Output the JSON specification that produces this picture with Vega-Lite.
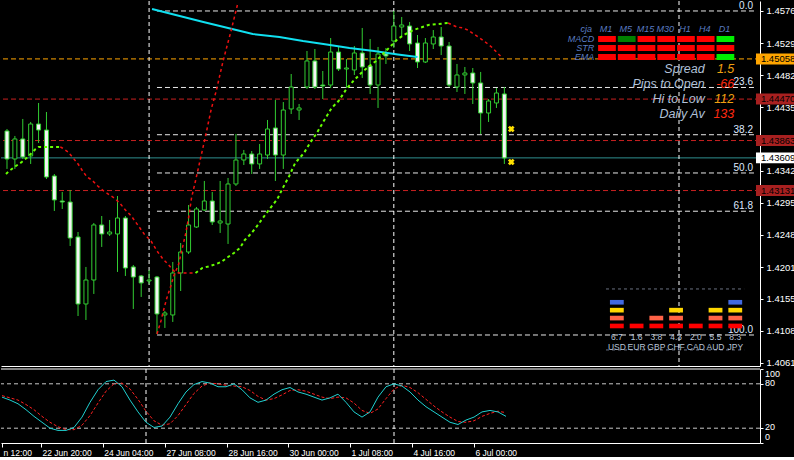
{
"$schema":"https://vega.github.io/schema/vega-lite/v6.json",
"background":"#000000",
"padding":0,
"spacing":0,
"config":{
 "view":{"stroke":null},
 "axis":{"grid":false,"title":null,"labelColor":"#ffffff","labelFont":"Liberation Sans","labelFontSize":9.5,"domainColor":"#ffffff","tickColor":"#ffffff","labelOverlap":false,"labelFlush":false,"labelBound":false},
 "text":{"font":"Liberation Sans"}
},
"datasets":{
 "candles":[
{"i":0,"o":1.44003,"h":1.44032,"l":1.43447,"c":1.43593},
{"i":1,"o":1.43593,"h":1.43930,"l":1.43447,"c":1.43886},
{"i":2,"o":1.43886,"h":1.44179,"l":1.43593,"c":1.43622},
{"i":3,"o":1.43637,"h":1.44135,"l":1.43520,"c":1.44105},
{"i":4,"o":1.44105,"h":1.44413,"l":1.43827,"c":1.44017},
{"i":5,"o":1.44017,"h":1.44281,"l":1.43300,"c":1.43329},
{"i":6,"o":1.43344,"h":1.43373,"l":1.42832,"c":1.42993},
{"i":7,"o":1.42978,"h":1.43110,"l":1.42861,"c":1.42963},
{"i":8,"o":1.42963,"h":1.43139,"l":1.42319,"c":1.42436},
{"i":9,"o":1.42451,"h":1.42524,"l":1.41294,"c":1.41470},
{"i":10,"o":1.41470,"h":1.42012,"l":1.41236,"c":1.41821},
{"i":11,"o":1.41821,"h":1.42656,"l":1.41617,"c":1.42627},
{"i":12,"o":1.42627,"h":1.42758,"l":1.42305,"c":1.42495},
{"i":13,"o":1.42495,"h":1.42700,"l":1.42466,"c":1.42524},
{"i":14,"o":1.42495,"h":1.43051,"l":1.41939,"c":1.42729},
{"i":15,"o":1.42729,"h":1.42758,"l":1.41880,"c":1.41997},
{"i":16,"o":1.42012,"h":1.42041,"l":1.41397,"c":1.41865},
{"i":17,"o":1.41880,"h":1.41895,"l":1.41573,"c":1.41778},
{"i":18,"o":1.41807,"h":1.41968,"l":1.41763,"c":1.41821},
{"i":19,"o":1.41865,"h":1.41880,"l":1.41031,"c":1.41324},
{"i":20,"o":1.41309,"h":1.41368,"l":1.41119,"c":1.41338},
{"i":21,"o":1.41309,"h":1.42085,"l":1.41207,"c":1.41924},
{"i":22,"o":1.41924,"h":1.42363,"l":1.41660,"c":1.42231},
{"i":23,"o":1.42231,"h":1.42919,"l":1.42202,"c":1.42627},
{"i":24,"o":1.42597,"h":1.42890,"l":1.42583,"c":1.42861},
{"i":25,"o":1.42846,"h":1.43271,"l":1.42832,"c":1.42978},
{"i":26,"o":1.42978,"h":1.43110,"l":1.42627,"c":1.42671},
{"i":27,"o":1.42656,"h":1.43271,"l":1.42510,"c":1.42685},
{"i":28,"o":1.42641,"h":1.43315,"l":1.42349,"c":1.43227},
{"i":29,"o":1.43227,"h":1.43959,"l":1.43198,"c":1.43578},
{"i":30,"o":1.43578,"h":1.43725,"l":1.43505,"c":1.43666},
{"i":31,"o":1.43666,"h":1.43710,"l":1.43373,"c":1.43520},
{"i":32,"o":1.43520,"h":1.43813,"l":1.43447,"c":1.43666},
{"i":33,"o":1.43651,"h":1.44164,"l":1.43593,"c":1.44032},
{"i":34,"o":1.44047,"h":1.44457,"l":1.43271,"c":1.43651},
{"i":35,"o":1.43651,"h":1.44427,"l":1.43447,"c":1.44310},
{"i":36,"o":1.44325,"h":1.44837,"l":1.44252,"c":1.44647},
{"i":37,"o":1.44310,"h":1.44398,"l":1.44164,"c":1.44340},
{"i":38,"o":1.44647,"h":1.45174,"l":1.44618,"c":1.45028},
{"i":39,"o":1.45028,"h":1.45203,"l":1.44618,"c":1.44647},
{"i":40,"o":1.44676,"h":1.44881,"l":1.44471,"c":1.44662},
{"i":41,"o":1.44676,"h":1.45364,"l":1.44632,"c":1.45159},
{"i":42,"o":1.45159,"h":1.45247,"l":1.44881,"c":1.44910},
{"i":43,"o":1.44910,"h":1.45057,"l":1.44632,"c":1.44925},
{"i":44,"o":1.44896,"h":1.45247,"l":1.44823,"c":1.45145},
{"i":45,"o":1.45145,"h":1.45511,"l":1.44779,"c":1.44940},
{"i":46,"o":1.44954,"h":1.45350,"l":1.44545,"c":1.44676},
{"i":47,"o":1.44676,"h":1.45233,"l":1.44340,"c":1.45130},
{"i":48,"o":1.45130,"h":1.45218,"l":1.44984,"c":1.45101},
{"i":49,"o":1.45320,"h":1.45760,"l":1.45218,"c":1.45540},
{"i":50,"o":1.45525,"h":1.45672,"l":1.45394,"c":1.45555},
{"i":51,"o":1.45540,"h":1.45599,"l":1.45174,"c":1.45277},
{"i":52,"o":1.45291,"h":1.45408,"l":1.44925,"c":1.45013},
{"i":53,"o":1.45013,"h":1.45364,"l":1.44998,"c":1.45291},
{"i":54,"o":1.45277,"h":1.45481,"l":1.45203,"c":1.45379},
{"i":55,"o":1.45379,"h":1.45525,"l":1.45115,"c":1.45247},
{"i":56,"o":1.45247,"h":1.45306,"l":1.44647,"c":1.44676},
{"i":57,"o":1.44647,"h":1.44984,"l":1.44574,"c":1.44823},
{"i":58,"o":1.44823,"h":1.44940,"l":1.44545,"c":1.44852},
{"i":59,"o":1.44852,"h":1.44925,"l":1.44398,"c":1.44706},
{"i":60,"o":1.44706,"h":1.44867,"l":1.43959,"c":1.44266},
{"i":61,"o":1.44266,"h":1.44471,"l":1.44135,"c":1.44442},
{"i":62,"o":1.44413,"h":1.44632,"l":1.44340,"c":1.44559},
{"i":63,"o":1.44545,"h":1.44647,"l":1.43520,"c":1.43608}
 ],
 "lines":[
{"s":"cyan","i":18.375,"p":1.45789},{"s":"cyan","i":24.875,"p":1.45599},{"s":"cyan","i":31.125,"p":1.45423},{"s":"cyan","i":34.5,"p":1.45379},{"s":"cyan","i":37.5,"p":1.4532},{"s":"cyan","i":40.5,"p":1.45269},{"s":"cyan","i":43.375,"p":1.45218},{"s":"cyan","i":46.5,"p":1.45174},{"s":"cyan","i":49.5,"p":1.45123},{"s":"cyan","i":52,"p":1.45086},
{"s":"g1","i":-0.125,"p":1.43373},{"s":"g1","i":0.25,"p":1.43417},{"s":"g1","i":1.125,"p":1.4349},{"s":"g1","i":1.875,"p":1.43549},{"s":"g1","i":2.625,"p":1.43622},{"s":"g1","i":3.25,"p":1.43695},{"s":"g1","i":3.625,"p":1.43739},{"s":"g1","i":4,"p":1.43769},{"s":"g1","i":6.75,"p":1.43769},
{"s":"r1","i":6.75,"p":1.43769},{"s":"r1","i":7,"p":1.43754},{"s":"r1","i":7.75,"p":1.43695},{"s":"r1","i":8.375,"p":1.43608},{"s":"r1","i":9,"p":1.4352},{"s":"r1","i":9.5,"p":1.43432},{"s":"r1","i":10.125,"p":1.43329},{"s":"r1","i":10.75,"p":1.43285},{"s":"r1","i":11.5,"p":1.43198},{"s":"r1","i":12.25,"p":1.43124},{"s":"r1","i":13,"p":1.43066},{"s":"r1","i":13.75,"p":1.43007},{"s":"r1","i":14.375,"p":1.42934},{"s":"r1","i":15,"p":1.42846},{"s":"r1","i":15.75,"p":1.42758},{"s":"r1","i":17.375,"p":1.42495},{"s":"r1","i":18.25,"p":1.42392},{"s":"r1","i":19,"p":1.42246},{"s":"r1","i":19.75,"p":1.42129},{"s":"r1","i":20.375,"p":1.42056},{"s":"r1","i":21.125,"p":1.41953},{"s":"r1","i":21.75,"p":1.41924},{"s":"r1","i":23.875,"p":1.41924},
{"s":"g2","i":23.875,"p":1.41924},{"s":"g2","i":24.75,"p":1.41997},{"s":"g2","i":25.75,"p":1.42026},{"s":"g2","i":26.5,"p":1.42056},{"s":"g2","i":27.125,"p":1.42085},{"s":"g2","i":28,"p":1.42158},{"s":"g2","i":28.75,"p":1.42217},{"s":"g2","i":29.5,"p":1.4229},{"s":"g2","i":30.125,"p":1.42407},{"s":"g2","i":30.875,"p":1.42495},{"s":"g2","i":31.5,"p":1.42583},{"s":"g2","i":32.875,"p":1.42802},{"s":"g2","i":34.25,"p":1.43007},{"s":"g2","i":34.875,"p":1.43154},{"s":"g2","i":35.75,"p":1.43344},{"s":"g2","i":36.5,"p":1.43534},{"s":"g2","i":37.625,"p":1.43681},{"s":"g2","i":38.375,"p":1.43827},{"s":"g2","i":39.25,"p":1.43974},{"s":"g2","i":40.125,"p":1.44149},{"s":"g2","i":41.125,"p":1.4434},{"s":"g2","i":42,"p":1.44442},{"s":"g2","i":43,"p":1.44618},{"s":"g2","i":43.875,"p":1.44735},{"s":"g2","i":44.875,"p":1.44852},{"s":"g2","i":45.75,"p":1.4494},{"s":"g2","i":46.75,"p":1.45028},{"s":"g2","i":47.375,"p":1.45101},{"s":"g2","i":48.375,"p":1.45218},{"s":"g2","i":49.5,"p":1.4535},{"s":"g2","i":50.5,"p":1.45423},{"s":"g2","i":51.5,"p":1.45481},{"s":"g2","i":52.625,"p":1.45525},{"s":"g2","i":53.375,"p":1.45555},{"s":"g2","i":55.875,"p":1.45584},
{"s":"r2","i":55.875,"p":1.45584},{"s":"r2","i":57,"p":1.45525},{"s":"r2","i":57.75,"p":1.45511},{"s":"r2","i":58.375,"p":1.45481},{"s":"r2","i":59.125,"p":1.45423},{"s":"r2","i":59.875,"p":1.45364},{"s":"r2","i":60.75,"p":1.45291},{"s":"r2","i":61.375,"p":1.45233},{"s":"r2","i":62.125,"p":1.45145},{"s":"r2","i":62.75,"p":1.45072},
{"s":"steep","i":19,"p":1.41031},{"s":"steep","i":19.5,"p":1.41221},{"s":"steep","i":19.875,"p":1.41397},{"s":"steep","i":20.25,"p":1.41558},{"s":"steep","i":20.75,"p":1.41734},{"s":"steep","i":21.125,"p":1.4188},{"s":"steep","i":21.75,"p":1.42056},{"s":"steep","i":22.125,"p":1.42246},{"s":"steep","i":22.625,"p":1.42495},{"s":"steep","i":23,"p":1.42729},{"s":"steep","i":23.375,"p":1.43022},{"s":"steep","i":23.875,"p":1.43271},{"s":"steep","i":24.5,"p":1.43593},{"s":"steep","i":25.125,"p":1.43915},{"s":"steep","i":25.5,"p":1.4412},{"s":"steep","i":25.875,"p":1.44325},{"s":"steep","i":26.5,"p":1.44588},{"s":"steep","i":27.375,"p":1.45028},{"s":"steep","i":28.375,"p":1.45467},{"s":"steep","i":29.25,"p":1.45877}
 ],
 "stoch":[
{"i":0,"k":62,"d":64},{"i":1,"k":58,"d":61},{"i":2,"k":53,"d":58},{"i":3,"k":45,"d":52},{"i":4,"k":36,"d":45},{"i":5,"k":28,"d":36},{"i":6,"k":20,"d":28},{"i":7,"k":17,"d":22},{"i":8,"k":17,"d":18},{"i":9,"k":21,"d":18},{"i":10,"k":35,"d":24},{"i":11,"k":55,"d":37},{"i":12,"k":72,"d":54},{"i":13,"k":83,"d":70},{"i":14,"k":85,"d":80},{"i":15,"k":76,"d":81},{"i":16,"k":58,"d":73},{"i":17,"k":42,"d":59},{"i":18,"k":28,"d":43},{"i":19,"k":21,"d":30},{"i":20,"k":23,"d":24},{"i":21,"k":35,"d":26},{"i":22,"k":53,"d":37},{"i":23,"k":69,"d":52},{"i":24,"k":79,"d":67},{"i":25,"k":83,"d":77},{"i":26,"k":81,"d":81},{"i":27,"k":76,"d":80},{"i":28,"k":76,"d":78},{"i":29,"k":80,"d":77},{"i":30,"k":72,"d":76},{"i":31,"k":61,"d":71},{"i":32,"k":55,"d":63},{"i":33,"k":58,"d":58},{"i":34,"k":66,"d":60},{"i":35,"k":72,"d":65},{"i":36,"k":75,"d":71},{"i":37,"k":69,"d":72},{"i":38,"k":66,"d":70},{"i":39,"k":62,"d":66},{"i":40,"k":58,"d":62},{"i":41,"k":61,"d":60},{"i":42,"k":66,"d":62},{"i":43,"k":55,"d":61},{"i":44,"k":42,"d":54},{"i":45,"k":35,"d":44},{"i":46,"k":42,"d":40},{"i":47,"k":62,"d":46},{"i":48,"k":76,"d":60},{"i":49,"k":80,"d":73},{"i":50,"k":77,"d":78},{"i":51,"k":69,"d":75},{"i":52,"k":58,"d":68},{"i":53,"k":49,"d":59},{"i":54,"k":42,"d":50},{"i":55,"k":35,"d":42},{"i":56,"k":28,"d":35},{"i":57,"k":25,"d":29},{"i":58,"k":31,"d":28},{"i":59,"k":35,"d":30},{"i":60,"k":42,"d":36},{"i":61,"k":44,"d":40},{"i":62,"k":42,"d":43},{"i":63,"k":36,"d":41}
 ],
 "grid":[
{"tf":"M1","k":0,"r":0,"st":"dn"},{"tf":"M5","k":1,"r":0,"st":"upw"},{"tf":"M15","k":2,"r":0,"st":"dn"},{"tf":"M30","k":3,"r":0,"st":"dn"},{"tf":"H1","k":4,"r":0,"st":"dn"},{"tf":"H4","k":5,"r":0,"st":"dn"},{"tf":"D1","k":6,"r":0,"st":"up"},
{"tf":"M1","k":0,"r":1,"st":"dn"},{"tf":"M5","k":1,"r":1,"st":"dn"},{"tf":"M15","k":2,"r":1,"st":"dn"},{"tf":"M30","k":3,"r":1,"st":"dn"},{"tf":"H1","k":4,"r":1,"st":"dn"},{"tf":"H4","k":5,"r":1,"st":"dn"},{"tf":"D1","k":6,"r":1,"st":"dn"},
{"tf":"M1","k":0,"r":2,"st":"dn"},{"tf":"M5","k":1,"r":2,"st":"dn"},{"tf":"M15","k":2,"r":2,"st":"dn"},{"tf":"M30","k":3,"r":2,"st":"dn"},{"tf":"H1","k":4,"r":2,"st":"dn"},{"tf":"H4","k":5,"r":2,"st":"dn"},{"tf":"D1","k":6,"r":2,"st":"up"}
 ],
 "meter":[
{"cur":"USD","val":"6.7","k":0},{"cur":"EUR","val":"1.6","k":1},{"cur":"GBP","val":"3.8","k":2},{"cur":"CHF","val":"4.3","k":3},{"cur":"CAD","val":"2.0","k":4},{"cur":"AUD","val":"5.5","k":5},{"cur":"JPY","val":"8.3","k":6}
 ],
 "mbars":[
{"cur":"USD","k":0,"lvl":1},{"cur":"USD","k":0,"lvl":2},{"cur":"USD","k":0,"lvl":3},{"cur":"USD","k":0,"lvl":4},
{"cur":"EUR","k":1,"lvl":1},
{"cur":"GBP","k":2,"lvl":1},{"cur":"GBP","k":2,"lvl":2},
{"cur":"CHF","k":3,"lvl":1},{"cur":"CHF","k":3,"lvl":2},{"cur":"CHF","k":3,"lvl":3},
{"cur":"CAD","k":4,"lvl":1},
{"cur":"AUD","k":5,"lvl":1},{"cur":"AUD","k":5,"lvl":2},{"cur":"AUD","k":5,"lvl":3},
{"cur":"JPY","k":6,"lvl":1},{"cur":"JPY","k":6,"lvl":2},{"cur":"JPY","k":6,"lvl":3},{"cur":"JPY","k":6,"lvl":4}
 ]
},
"vconcat":[
{
 "width":759,"height":365,
 "resolve":{"axis":{"x":"independent","y":"independent"}},
 "layer":[
  {"data":{"values":[{"p":1.4447},{"p":1.43863},{"p":1.43131}]},
   "mark":{"type":"rule","color":"#c82020","strokeDash":[5,3],"strokeWidth":1},
   "encoding":{"y":{"field":"p","type":"quantitative","scale":{"domain":[1.40562,1.45906],"nice":false,"zero":false},
     "axis":{"orient":"right","values":[1.4576,1.4529,1.4482,1.4435,1.4388,1.4342,1.4295,1.4248,1.4201,1.4155,1.4108,1.4061],"format":".5f","tickSize":3,"labelPadding":3}}}},
  {"data":{"values":[{"p":1.45058}]},
   "mark":{"type":"rule","color":"#ffa500","strokeDash":[5,3],"strokeWidth":1},
   "encoding":{"y":{"field":"p","type":"quantitative","scale":{"domain":[1.40562,1.45906],"nice":false,"zero":false},"axis":null}}},
  {"data":{"values":[{"p":1.43609}]},
   "mark":{"type":"rule","color":"#2f8f8f","strokeWidth":1},
   "encoding":{"y":{"field":"p","type":"quantitative","scale":{"domain":[1.40562,1.45906],"nice":false,"zero":false},"axis":null}}},
  {"data":{"values":[{"p":1.4576,"lab":"0.0"},{"p":1.4464,"lab":"23.6"},{"p":1.43948,"lab":"38.2"},{"p":1.43388,"lab":"50.0"},{"p":1.42828,"lab":"61.8"},{"p":1.41016,"lab":"100.0"}]},
   "layer":[
    {"mark":{"type":"rule","color":"#e8e8e8","strokeDash":[5,3],"strokeWidth":1},
     "encoding":{"x":{"datum":19,"type":"quantitative","scale":{"domain":[-0.125,94.75],"nice":false,"zero":false},"axis":null},"x2":{"datum":94.75},
       "y":{"field":"p","type":"quantitative","scale":{"domain":[1.40562,1.45906],"nice":false,"zero":false},"axis":null}}},
    {"mark":{"type":"text","align":"right","baseline":"bottom","fontSize":10,"color":"#dfe8ff","dy":0},
     "encoding":{"x":{"datum":94.5,"type":"quantitative","scale":{"domain":[-0.125,94.75],"nice":false,"zero":false},"axis":null},
       "y":{"field":"p","type":"quantitative","scale":{"domain":[1.40562,1.45906],"nice":false,"zero":false},"axis":null},"text":{"field":"lab"}}}
   ]},
  {"data":{"values":[{"i":18},{"i":49},{"i":85.125}]},
   "mark":{"type":"rule","color":"#ffffff","strokeDash":[4,3],"strokeWidth":1},
   "encoding":{"x":{"field":"i","type":"quantitative","scale":{"domain":[-0.125,94.75],"nice":false,"zero":false},"axis":null}}},
  {"data":{"name":"candles"},
   "mark":{"type":"rule","color":"#32cd32","strokeWidth":1,"clip":true},
   "encoding":{"x":{"field":"i","type":"quantitative","scale":{"domain":[-0.125,94.75],"nice":false,"zero":false},"axis":{"orient":"bottom","labels":false,"ticks":false,"domain":true}},
     "y":{"field":"l","type":"quantitative","scale":{"domain":[1.40562,1.45906],"nice":false,"zero":false},"axis":null},"y2":{"field":"h"}}},
  {"data":{"name":"candles"},
   "mark":{"type":"bar","orient":"vertical","size":4,"stroke":"#32cd32","strokeWidth":1,"clip":true},
   "encoding":{"x":{"field":"i","type":"quantitative","scale":{"domain":[-0.125,94.75],"nice":false,"zero":false},"axis":null},
     "y":{"field":"o","type":"quantitative","scale":{"domain":[1.40562,1.45906],"nice":false,"zero":false},"axis":null},"y2":{"field":"c"},
     "fill":{"condition":{"test":"datum.c < datum.o","value":"#f4f4f4"},"value":"#000000"}}},
  {"data":{"name":"lines"},"transform":[{"filter":"datum.s === 'cyan'"}],
   "mark":{"type":"line","color":"#10e0f0","strokeWidth":2},
   "encoding":{"x":{"field":"i","type":"quantitative","scale":{"domain":[-0.125,94.75],"nice":false,"zero":false},"axis":null},
     "y":{"field":"p","type":"quantitative","scale":{"domain":[1.40562,1.45906],"nice":false,"zero":false},"axis":null}}},
  {"data":{"name":"lines"},"transform":[{"filter":"datum.s === 'g1' || datum.s === 'g2'"}],
   "mark":{"type":"line","color":"#66ff00","strokeWidth":2,"strokeDash":[3,3]},
   "encoding":{"x":{"field":"i","type":"quantitative","scale":{"domain":[-0.125,94.75],"nice":false,"zero":false},"axis":null},
     "y":{"field":"p","type":"quantitative","scale":{"domain":[1.40562,1.45906],"nice":false,"zero":false},"axis":null},
     "detail":{"field":"s"}}},
  {"data":{"name":"lines"},"transform":[{"filter":"datum.s === 'r1' || datum.s === 'r2' || datum.s === 'steep'"}],
   "mark":{"type":"line","color":"#ee1010","strokeWidth":1.5,"strokeDash":[3,3],"clip":true},
   "encoding":{"x":{"field":"i","type":"quantitative","scale":{"domain":[-0.125,94.75],"nice":false,"zero":false},"axis":null},
     "y":{"field":"p","type":"quantitative","scale":{"domain":[1.40562,1.45906],"nice":false,"zero":false},"axis":null},
     "detail":{"field":"s"}}},
  {"data":{"values":[{"i":63.875,"p":1.44032},{"i":63.875,"p":1.43549}]},
   "mark":{"type":"point","shape":"cross","angle":45,"filled":true,"color":"#ffe000","size":45,"opacity":1},
   "encoding":{"x":{"field":"i","type":"quantitative","scale":{"domain":[-0.125,94.75],"nice":false,"zero":false},"axis":null},
     "y":{"field":"p","type":"quantitative","scale":{"domain":[1.40562,1.45906],"nice":false,"zero":false},"axis":null}}},
  {"mark":{"type":"text","text":"U","fontSize":11,"fontWeight":"bold","color":"#e8b000","align":"center","baseline":"middle"},
   "encoding":{"x":{"datum":63.5,"type":"quantitative","scale":{"domain":[-0.125,94.75],"nice":false,"zero":false},"axis":null},
     "y":{"datum":1.44574,"type":"quantitative","scale":{"domain":[1.40562,1.45906],"nice":false,"zero":false},"axis":null}}},
  {"mark":{"type":"point","shape":"triangle-down","filled":true,"color":"#008b8b","size":90,"opacity":1,"clip":true},
   "encoding":{"x":{"datum":64.875,"type":"quantitative","scale":{"domain":[-0.125,94.75],"nice":false,"zero":false},"axis":null},
     "y":{"datum":1.459,"type":"quantitative","scale":{"domain":[1.40562,1.45906],"nice":false,"zero":false},"axis":null}}},
  {"data":{"name":"grid"},
   "transform":[{"calculate":"74.875 + 2.5*datum.k","as":"x1"},{"calculate":"datum.x1 + 2.25","as":"x2"},{"calculate":"1.45394 - 0.0013176*datum.r","as":"yt"},{"calculate":"datum.yt - 0.00088","as":"yb"}],
   "mark":{"type":"rect"},
   "encoding":{"x":{"field":"x1","type":"quantitative","scale":{"domain":[-0.125,94.75],"nice":false,"zero":false},"axis":null},"x2":{"field":"x2"},
     "y":{"field":"yt","type":"quantitative","scale":{"domain":[1.40562,1.45906],"nice":false,"zero":false},"axis":null},"y2":{"field":"yb"},
     "fill":{"condition":[{"test":"datum.st === 'up'","value":"#00ee00"},{"test":"datum.st === 'upw'","value":"#008000"}],"value":"#ff0000"}}},
  {"data":{"values":[{"t":"cja","k":-1},{"t":"M1","k":0},{"t":"M5","k":1},{"t":"M15","k":2},{"t":"M30","k":3},{"t":"H1","k":4},{"t":"H4","k":5},{"t":"D1","k":6}]},
   "transform":[{"calculate":"75.875 + 2.5*datum.k","as":"x"}],
   "mark":{"type":"text","fontSize":9,"fontStyle":"italic","color":"#5a7cc0","align":"center","baseline":"middle"},
   "encoding":{"x":{"field":"x","type":"quantitative","scale":{"domain":[-0.125,94.75],"nice":false,"zero":false},"axis":null},
     "y":{"datum":1.45496,"type":"quantitative","scale":{"domain":[1.40562,1.45906],"nice":false,"zero":false},"axis":null},"text":{"field":"t"}}},
  {"data":{"values":[{"t":"MACD","r":0},{"t":"STR","r":1},{"t":"EMA","r":2}]},
   "transform":[{"calculate":"1.4535 - 0.0013176*datum.r","as":"y"}],
   "mark":{"type":"text","fontSize":9,"fontStyle":"italic","color":"#5a7cc0","align":"right","baseline":"middle"},
   "encoding":{"x":{"datum":74.375,"type":"quantitative","scale":{"domain":[-0.125,94.75],"nice":false,"zero":false},"axis":null},
     "y":{"field":"y","type":"quantitative","scale":{"domain":[1.40562,1.45906],"nice":false,"zero":false},"axis":null},"text":{"field":"t"}}},
  {"data":{"values":[{"t":"Spread","v":"1.5","k":0},{"t":"Pips to Open","v":"-66","k":1},{"t":"Hi to Low","v":"112","k":2},{"t":"Daily Av","v":"133","k":3}]},
   "transform":[{"calculate":"1.4491 - 0.002196*datum.k","as":"y"}],
   "layer":[
    {"mark":{"type":"text","fontSize":12.5,"fontStyle":"italic","color":"#b0c0d8","align":"right","baseline":"middle"},
     "encoding":{"x":{"datum":88.375,"type":"quantitative","scale":{"domain":[-0.125,94.75],"nice":false,"zero":false},"axis":null},
       "y":{"field":"y","type":"quantitative","scale":{"domain":[1.40562,1.45906],"nice":false,"zero":false},"axis":null},"text":{"field":"t"}}},
    {"mark":{"type":"text","fontSize":12.5,"fontStyle":"italic","align":"right","baseline":"middle"},
     "encoding":{"x":{"datum":92.125,"type":"quantitative","scale":{"domain":[-0.125,94.75],"nice":false,"zero":false},"axis":null},
       "y":{"field":"y","type":"quantitative","scale":{"domain":[1.40562,1.45906],"nice":false,"zero":false},"axis":null},"text":{"field":"v"},
       "fill":{"condition":{"test":"datum.k % 2 == 0","value":"#f0a010"},"value":"#ff2a10"}}}
   ]},
  {"data":{"values":[{"p":1.4169},{"p":1.40797}]},
   "mark":{"type":"rule","color":"#6a7080","strokeDash":[3,3],"strokeWidth":1},
   "encoding":{"x":{"datum":75.875,"type":"quantitative","scale":{"domain":[-0.125,94.75],"nice":false,"zero":false},"axis":null},"x2":{"datum":93.375},
     "y":{"field":"p","type":"quantitative","scale":{"domain":[1.40562,1.45906],"nice":false,"zero":false},"axis":null}}},
  {"data":{"name":"mbars"},
   "transform":[{"calculate":"77.25 + 2.5*datum.k - 0.875","as":"x1"},{"calculate":"datum.x1 + 1.75","as":"x2"},{"calculate":"1.41114 + 0.001157*(datum.lvl-1)","as":"yb"},{"calculate":"datum.yb + 0.00068","as":"yt"}],
   "mark":{"type":"rect"},
   "encoding":{"x":{"field":"x1","type":"quantitative","scale":{"domain":[-0.125,94.75],"nice":false,"zero":false},"axis":null},"x2":{"field":"x2"},
     "y":{"field":"yb","type":"quantitative","scale":{"domain":[1.40562,1.45906],"nice":false,"zero":false},"axis":null},"y2":{"field":"yt"},
     "fill":{"condition":[{"test":"datum.lvl == 1","value":"#ff0000"},{"test":"datum.lvl == 2","value":"#ff6347"},{"test":"datum.lvl == 3","value":"#ffd700"}],"value":"#4169e1"}}},
  {"data":{"name":"meter"},
   "transform":[{"calculate":"77.25 + 2.5*datum.k","as":"x"}],
   "layer":[
    {"mark":{"type":"text","fontSize":8.5,"color":"#b8c4d8","align":"center","baseline":"middle"},
     "encoding":{"x":{"field":"x","type":"quantitative","scale":{"domain":[-0.125,94.75],"nice":false,"zero":false},"axis":null},
       "y":{"datum":1.40992,"type":"quantitative","scale":{"domain":[1.40562,1.45906],"nice":false,"zero":false},"axis":null},"text":{"field":"val"}}},
    {"mark":{"type":"text","fontSize":8.5,"color":"#b8c4d8","align":"center","baseline":"middle"},
     "encoding":{"x":{"field":"x","type":"quantitative","scale":{"domain":[-0.125,94.75],"nice":false,"zero":false},"axis":null},
       "y":{"datum":1.40841,"type":"quantitative","scale":{"domain":[1.40562,1.45906],"nice":false,"zero":false},"axis":null},"text":{"field":"cur"}}}
   ]},
  {"mark":{"type":"text","text":"»»» Price Meter System™ ©GPL «««","fontSize":8.5,"color":"#6a7080","align":"center","baseline":"middle"},
   "encoding":{"x":{"datum":84.875,"type":"quantitative","scale":{"domain":[-0.125,94.75],"nice":false,"zero":false},"axis":null},
     "y":{"datum":1.40684,"type":"quantitative","scale":{"domain":[1.40562,1.45906],"nice":false,"zero":false},"axis":null}}},
  {"data":{"values":[{"p":1.45058,"kind":"o"},{"p":1.4447,"kind":"r"},{"p":1.43863,"kind":"r"},{"p":1.43609,"kind":"w"},{"p":1.43131,"kind":"r"}]},
   "transform":[{"calculate":"datum.p + 0.0008","as":"pt"},{"calculate":"datum.p - 0.0008","as":"pb"}],
   "layer":[
    {"mark":{"type":"rect"},
     "encoding":{"x":{"datum":94.875,"type":"quantitative","scale":{"domain":[-0.125,94.75],"nice":false,"zero":false},"axis":null},"x2":{"datum":99.9},
       "y":{"field":"pt","type":"quantitative","scale":{"domain":[1.40562,1.45906],"nice":false,"zero":false},"axis":null},"y2":{"field":"pb"},
       "fill":{"condition":[{"test":"datum.kind === 'o'","value":"#ffa500"},{"test":"datum.kind === 'w'","value":"#ffffff"}],"value":"#a82020"}}},
    {"mark":{"type":"text","fontSize":9.5,"font":"Liberation Sans","color":"#000000","align":"left","baseline":"middle"},
     "encoding":{"x":{"datum":95.5,"type":"quantitative","scale":{"domain":[-0.125,94.75],"nice":false,"zero":false},"axis":null},
       "y":{"field":"p","type":"quantitative","scale":{"domain":[1.40562,1.45906],"nice":false,"zero":false},"axis":null},
       "text":{"field":"p","type":"quantitative","format":".5f"}}}
   ]}
 ]
},
{
 "width":759,"height":74,
 "resolve":{"axis":{"x":"independent","y":"independent"}},
 "layer":[
  {"data":{"values":[{"v":100}]},
   "mark":{"type":"rule","color":"#ffffff","strokeWidth":1},
   "encoding":{"y":{"field":"v","type":"quantitative","scale":{"domain":[0,100],"nice":false,"zero":false},
     "axis":{"orient":"right","values":[0,20,80,100],"tickSize":3,"labels":false}}}},
  {"data":{"values":[{"v":100,"t":"100"},{"v":80,"t":"80"},{"v":20,"t":"20"},{"v":0,"t":"0"}]},
   "layer":[
    {"transform":[{"filter":"datum.v == 100"}],
     "mark":{"type":"text","fontSize":9,"color":"#ffffff","align":"left","baseline":"top","dy":1},
     "encoding":{"x":{"datum":95.375,"type":"quantitative","scale":{"domain":[-0.125,94.75],"nice":false,"zero":false},"axis":null},
       "y":{"field":"v","type":"quantitative","scale":{"domain":[0,100],"nice":false,"zero":false},"axis":null},"text":{"field":"t"}}},
    {"transform":[{"filter":"datum.v == 80 || datum.v == 20"}],
     "mark":{"type":"text","fontSize":9,"color":"#ffffff","align":"left","baseline":"middle","dy":-1},
     "encoding":{"x":{"datum":95.375,"type":"quantitative","scale":{"domain":[-0.125,94.75],"nice":false,"zero":false},"axis":null},
       "y":{"field":"v","type":"quantitative","scale":{"domain":[0,100],"nice":false,"zero":false},"axis":null},"text":{"field":"t"}}},
    {"transform":[{"filter":"datum.v == 0"}],
     "mark":{"type":"text","fontSize":9,"color":"#ffffff","align":"left","baseline":"bottom","dy":-1},
     "encoding":{"x":{"datum":95.375,"type":"quantitative","scale":{"domain":[-0.125,94.75],"nice":false,"zero":false},"axis":null},
       "y":{"field":"v","type":"quantitative","scale":{"domain":[0,100],"nice":false,"zero":false},"axis":null},"text":{"field":"t"}}}
   ]},
  {"data":{"values":[{"v":80},{"v":20}]},
   "mark":{"type":"rule","color":"#c8c8c8","strokeDash":[4,3],"strokeWidth":1},
   "encoding":{"y":{"field":"v","type":"quantitative","scale":{"domain":[0,100],"nice":false,"zero":false},"axis":null}}},
  {"data":{"values":[{"i":18},{"i":49}]},
   "mark":{"type":"rule","color":"#ffffff","strokeDash":[4,3],"strokeWidth":1},
   "encoding":{"x":{"field":"i","type":"quantitative","scale":{"domain":[-0.125,94.75],"nice":false,"zero":false},"axis":null}}},
  {"data":{"name":"stoch"},
   "mark":{"type":"line","color":"#ff2020","strokeWidth":1,"strokeDash":[3,2]},
   "encoding":{"x":{"field":"i","type":"quantitative","scale":{"domain":[-0.125,94.75],"nice":false,"zero":false},
     "axis":{"orient":"bottom","values":[0,4.875,12.59,20.375,28.125,35.75,43.5,51.25,59],"tickSize":4,"labelPadding":1,"labelAlign":"left","labelFontSize":8.5,"labelOffset":1,
       "labelExpr":"datum.value < 1 ? 'n 12:00' : datum.value < 6 ? '22 Jun 20:00' : datum.value < 14 ? '24 Jun 04:00' : datum.value < 22 ? '27 Jun 08:00' : datum.value < 30 ? '28 Jun 16:00' : datum.value < 37 ? '30 Jun 00:00' : datum.value < 45 ? '1 Jul 08:00' : datum.value < 53 ? '4 Jul 16:00' : '6 Jul 00:00'"}},
     "y":{"field":"d","type":"quantitative","scale":{"domain":[0,100],"nice":false,"zero":false},"axis":null}}},
  {"data":{"name":"stoch"},
   "mark":{"type":"line","color":"#20d0d0","strokeWidth":1},
   "encoding":{"x":{"field":"i","type":"quantitative","scale":{"domain":[-0.125,94.75],"nice":false,"zero":false},"axis":null},
     "y":{"field":"k","type":"quantitative","scale":{"domain":[0,100],"nice":false,"zero":false},"axis":null}}}
 ]
}
]
}
